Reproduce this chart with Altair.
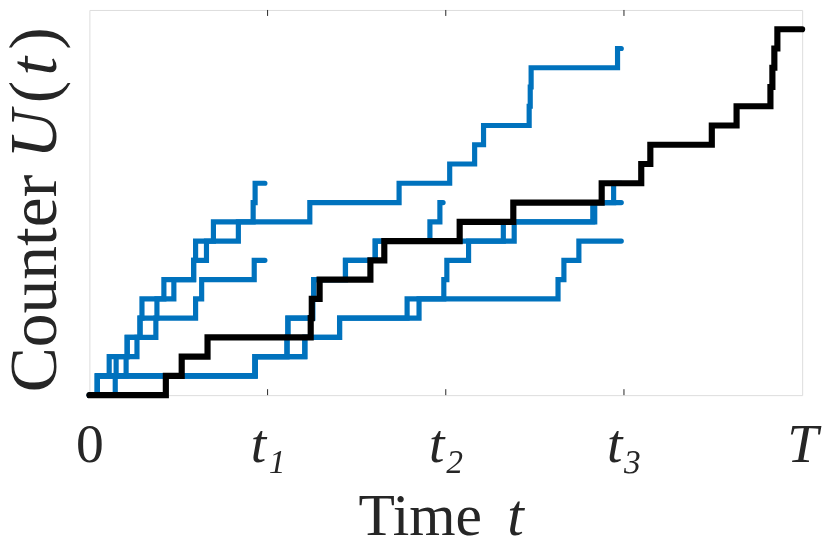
import altair as alt
import pandas as pd

# ---- axis ticks (time units) and their labels ----
tick_values = [0, 1, 2, 3, 4]
tick_labels = ["0", "t₁", "t₂", "t₃", "T"]
inner_ticks = [1, 2, 3]

# ---- axis titles (pieces: upright / italic as in the LaTeX original) ----
x_title_parts = ["Time", "t"]
y_title_parts = ["Counter", "U", "(", "t", ")"]

# ---- black (observed) counter: jump times, end time ----
black_jumps = [0.429, 0.518, 0.663, 1.242, 1.248, 1.292, 1.577, 1.655, 2.078,
               2.379, 2.875, 3.097, 3.148, 3.493, 3.632, 3.822, 3.833, 3.844, 3.861]
black_end = 4.0

# ---- blue (sampled) counters: jump times, end time ----
blue_a = [0.045, 0.111, 0.212, 0.284, 0.295, 0.418, 0.585, 0.596, 0.696, 1.237,
          1.738, 2.022, 2.162, 2.212, 2.468, 2.474, 2.479, 2.964]
blue_a_end = 2.985
blue_b = [0.145, 0.150, 0.267, 0.373, 0.379, 0.474, 0.585, 0.657, 0.836, 0.919, 0.930]
blue_b_end = 0.985
blue_c = [0.045, 0.206, 0.212, 0.284, 0.596, 0.630, 0.925]
blue_c_end = 0.985
blue_d = [0.045, 0.930, 1.109, 1.114, 1.253, 1.259, 1.437, 1.604, 1.911, 1.967]
blue_d_end = 1.985
blue_e = [0.045, 0.930, 1.209, 1.404, 1.783, 1.989, 2.006, 2.128, 2.323, 2.825]
blue_e_end = 2.985
blue_f = [0.045, 0.930, 1.209, 1.404, 1.850, 2.630, 2.663, 2.747]
blue_f_end = 2.985
blue_g = [0.045, 0.930, 1.109, 1.114, 1.253, 1.259, 1.437, 1.604, 2.384, 2.836, 2.942]
blue_g_end = 2.985


def path_rows(name, jumps, end):
    pts = [(0.0, 0)] + [(t, k) for k, t in enumerate(jumps, 1)] + [(end, len(jumps))]
    return [{"path": name, "t": t, "u": u, "i": i} for i, (t, u) in enumerate(pts)]


blue_rows = []
for nm, j, e in [("a", blue_a, blue_a_end), ("b", blue_b, blue_b_end),
                 ("c", blue_c, blue_c_end), ("d", blue_d, blue_d_end),
                 ("e", blue_e, blue_e_end), ("f", blue_f, blue_f_end),
                 ("g", blue_g, blue_g_end)]:
    blue_rows += path_rows(nm, j, e)
blue_df = pd.DataFrame(blue_rows)
black_df = pd.DataFrame(path_rows("black", black_jumps, black_end))
tick_df = pd.DataFrame({"t": inner_ticks})

label_expr = "[" + ",".join("'%s'" % s for s in tick_labels) + "][datum.value]"
FONT = "Liberation Serif"
INK = "#262626"

x_axis = alt.Axis(values=tick_values, labelExpr=label_expr, ticks=False, domain=False,
                  grid=False, labelFont=FONT, labelFontSize=56, labelColor=INK,
                  labelFontStyle={"condition": {"test": "datum.value == 0", "value": "normal"},
                                  "value": "italic"},
                  labelPadding=23, labelFlush=False, labelOverlap=False, title="")
y_axis = alt.Axis(labels=False, ticks=False, domain=False, grid=False, title="")

x_enc = alt.X("t:Q", scale=alt.Scale(domain=[0, 4], nice=False, zero=False), axis=x_axis)
y_enc = alt.Y("u:Q", scale=alt.Scale(domain=[0, 20], nice=False, zero=False), axis=y_axis)

blue = alt.Chart(blue_df).mark_line(
    interpolate="step-after", color="#0072BD", strokeWidth=5.2,
    strokeCap="round", strokeJoin="miter"
).encode(x=x_enc, y=y_enc, detail="path:N", order="i:Q")

black = alt.Chart(black_df).mark_line(
    interpolate="step-after", color="#000000", strokeWidth=6.2,
    strokeCap="round", strokeJoin="miter"
).encode(x=x_enc, y=y_enc, order="i:Q")

ticks_bottom = alt.Chart(tick_df).mark_rule(color=INK, strokeWidth=1).encode(
    x=x_enc, y=alt.value(388), y2=alt.value(382))
ticks_top = alt.Chart(tick_df).mark_rule(color=INK, strokeWidth=1).encode(
    x=x_enc, y=alt.value(0), y2=alt.value(6))


def title_piece(text, px, py, italic, size, angle=0):
    kw = dict(font=FONT, fontSize=size, color=INK, align="left", baseline="alphabetic",
              fontStyle="italic" if italic else "normal")
    if angle:
        kw["angle"] = angle
    return alt.Chart(pd.DataFrame({"s": [text]})).mark_text(**kw).encode(
        text="s:N", x=alt.value(px), y=alt.value(py))


# x title "Time t" (t italic)
x_title = [
    title_piece(x_title_parts[0], 271, 529, False, 60),
    title_piece(x_title_parts[1], 421, 529, True, 60),
]
# y title "Counter U(t)", rotated, reading upwards
y_pos = [385, 150, 94, 66, 40]
y_ital = [False, True, False, True, False]
y_title = [title_piece(s, -34, p, it, 68, angle=270)
           for s, p, it in zip(y_title_parts, y_pos, y_ital)]

chart = alt.layer(blue, black, ticks_bottom, ticks_top, *x_title, *y_title).properties(
    width=718, height=388,
    padding={"left": 82, "top": 0, "right": 20, "bottom": 150},
    autosize=alt.AutoSizeParams(type="none"),
).configure_view(stroke=INK, strokeWidth=1).configure(background="white")

chart.save("out.html", embed_options={"renderer": "svg", "actions": False})
